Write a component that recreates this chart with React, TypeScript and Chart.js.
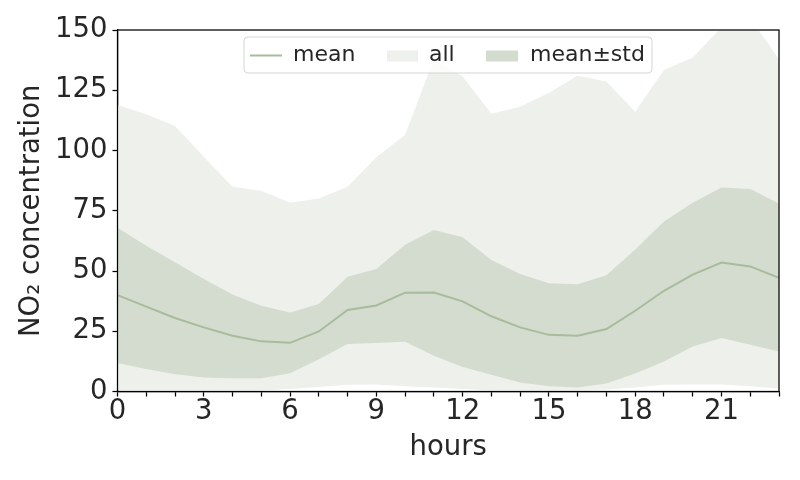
import React, { useEffect, useRef } from "react";
import { Chart, registerables } from "chart.js";

Chart.register(...registerables);

const hours = [0, 1, 2, 3, 4, 5, 6, 7, 8, 9, 10, 11, 12, 13, 14, 15, 16, 17, 18, 19, 20, 21, 22, 23];
const meanValues = [40.0, 35.2, 30.5, 26.6, 23.1, 20.8, 20.2, 24.9, 33.8, 35.7, 41.0, 41.1, 37.4, 31.2, 26.6, 23.5, 23.1, 25.9, 33.5, 41.8, 48.5, 53.5, 51.9, 47.2];
const stdUpper = [67.9, 60.5, 53.6, 46.7, 40.2, 35.6, 32.8, 36.3, 47.6, 50.8, 60.9, 67.0, 64.0, 54.6, 48.8, 44.9, 44.5, 48.2, 58.9, 70.5, 78.3, 84.6, 84.0, 78.0];
const stdLower = [11.8, 9.3, 7.2, 5.8, 5.5, 5.5, 7.6, 13.4, 19.7, 20.1, 20.6, 14.8, 10.2, 6.9, 3.7, 2.2, 1.7, 3.3, 7.5, 12.5, 18.7, 22.2, 19.4, 16.6];
const allMax = [118.9, 115.0, 110.2, 97.4, 85.0, 83.3, 78.3, 80.1, 85.0, 97.2, 106.4, 138.0, 130.7, 115.2, 118.2, 124.0, 131.0, 128.6, 116.1, 133.4, 138.6, 151.0, 155.0, 137.9];
const allMin = [0.5, 0.5, 0.5, 0.5, 0.5, 0.5, 1.0, 1.9, 2.8, 2.9, 2.2, 1.7, 1.0, 0.5, 0.5, 0.5, 0.5, 0.8, 1.7, 2.8, 2.9, 2.9, 2.2, 1.2];
const yTicks = [0, 25, 50, 75, 100, 125, 150];
const legendLabels = ["mean", "all", "mean\u00b1std"];

const MEAN_COLOR = "#a8bb9b";
const STD_COLOR = "#d4dccf";
const ALL_COLOR = "#eef0eb";
const TEXT_COLOR = "#262626";
const FONT = "'DejaVu Sans', sans-serif";

const pts = (arr: number[]) => hours.map((h, i) => ({ x: h, y: arr[i] }));

const framePlugin = {
  id: "frame",
  afterDatasetsDraw(chart: any) {
    const { ctx, chartArea: a } = chart;
    ctx.save();
    ctx.strokeStyle = "#000";
    ctx.lineWidth = 1.25;
    ctx.strokeRect(a.left, a.top, a.right - a.left, a.bottom - a.top);
    ctx.restore();
  },
};

const legendPlugin = {
  id: "customLegend",
  afterDraw(chart: any) {
    const { ctx } = chart;
    ctx.save();
    const x0 = 244, y0 = 37, w = 408, h = 36, r = 4;
    ctx.beginPath();
    ctx.moveTo(x0 + r, y0);
    ctx.lineTo(x0 + w - r, y0);
    ctx.arcTo(x0 + w, y0, x0 + w, y0 + r, r);
    ctx.lineTo(x0 + w, y0 + h - r);
    ctx.arcTo(x0 + w, y0 + h, x0 + w - r, y0 + h, r);
    ctx.lineTo(x0 + r, y0 + h);
    ctx.arcTo(x0, y0 + h, x0, y0 + h - r, r);
    ctx.lineTo(x0, y0 + r);
    ctx.arcTo(x0, y0, x0 + r, y0, r);
    ctx.closePath();
    ctx.fillStyle = "rgba(255,255,255,0.8)";
    ctx.fill();
    ctx.strokeStyle = "rgba(204,204,204,0.8)";
    ctx.lineWidth = 1;
    ctx.stroke();

    const cy = 55.5;
    // mean line handle
    ctx.strokeStyle = MEAN_COLOR;
    ctx.lineWidth = 2;
    ctx.beginPath();
    ctx.moveTo(250, cy);
    ctx.lineTo(282, cy);
    ctx.stroke();
    // all patch
    ctx.fillStyle = ALL_COLOR;
    ctx.fillRect(387, 50.5, 31, 11);
    // std patch
    ctx.fillStyle = STD_COLOR;
    ctx.fillRect(486, 50.5, 32, 11);

    ctx.fillStyle = TEXT_COLOR;
    ctx.font = `22px ${FONT}`;
    ctx.textBaseline = "middle";
    ctx.textAlign = "left";
    ctx.fillText(legendLabels[0], 293, cy);
    ctx.fillText(legendLabels[1], 429, cy);
    ctx.fillText(legendLabels[2], 530, cy);
    ctx.restore();
  },
};

export default function App() {
  const canvasRef = useRef<HTMLCanvasElement | null>(null);

  useEffect(() => {
    document.body.style.margin = "0";
    const canvas = canvasRef.current;
    if (!canvas) return;
    const chart = new Chart(canvas, {
      type: "line",
      data: {
        datasets: [
          {
            label: "allMin",
            data: pts(allMin),
            borderWidth: 0,
            pointRadius: 0,
            fill: false,
            order: 4,
          },
          {
            label: legendLabels[1],
            data: pts(allMax),
            borderWidth: 0,
            borderColor: ALL_COLOR,
            backgroundColor: ALL_COLOR,
            pointRadius: 0,
            fill: "-1",
            order: 3,
          },
          {
            label: "stdLower",
            data: pts(stdLower),
            borderWidth: 0,
            pointRadius: 0,
            fill: false,
            order: 2,
          },
          {
            label: legendLabels[2],
            data: pts(stdUpper),
            borderWidth: 0,
            borderColor: STD_COLOR,
            backgroundColor: STD_COLOR,
            pointRadius: 0,
            fill: "-1",
            order: 1,
          },
          {
            label: legendLabels[0],
            data: pts(meanValues),
            borderWidth: 2,
            borderColor: MEAN_COLOR,
            pointRadius: 0,
            fill: false,
            order: 0,
          },
        ],
      },
      options: {
        animation: false,
        responsive: false,
        maintainAspectRatio: false,
        layout: { padding: { top: 30, right: 21, left: 0, bottom: 0 } },
        plugins: {
          legend: { display: false },
          tooltip: { enabled: false },
        },
        scales: {
          x: {
            type: "linear",
            min: 0,
            max: 23,
            afterFit: (s: any) => {
              s.height = 88.5;
            },
            afterBuildTicks: (s: any) => {
              s.ticks = hours.map((h) => ({ value: h }));
            },
            grid: { drawOnChartArea: false, drawTicks: true, tickLength: 5, color: "#000", tickWidth: 1.25 },
            border: { display: true, color: "#000", width: 1.25 },
            ticks: {
              autoSkip: false,
              maxRotation: 0,
              padding: 2,
              color: TEXT_COLOR,
              font: { family: FONT, size: 27.5, lineHeight: 1 },
              callback: (v: any) => (Number(v) % 3 === 0 ? String(v) : ""),
            },
            title: {
              display: true,
              text: "hours",
              color: TEXT_COLOR,
              font: { family: FONT, size: 27.5, lineHeight: 1.2 },
              padding: { top: 0, bottom: 16 },
            },
          },
          y: {
            min: 0,
            max: 150,
            afterFit: (s: any) => {
              s.width = 117.5;
            },
            afterBuildTicks: (s: any) => {
              s.ticks = yTicks.map((v) => ({ value: v }));
            },
            grid: { drawOnChartArea: false, drawTicks: true, tickLength: 5, color: "#000", tickWidth: 1.25 },
            border: { display: true, color: "#000", width: 1.25 },
            ticks: {
              padding: 5,
              color: TEXT_COLOR,
              font: { family: FONT, size: 27.5, lineHeight: 1.2 },
            },
            title: {
              display: true,
              text: "NO\u2082 concentration",
              color: TEXT_COLOR,
              font: { family: FONT, size: 27.5, lineHeight: 1.2 },
              padding: { top: 15.5, bottom: 0 },
            },
          },
        },
      },
      plugins: [framePlugin, legendPlugin],
    });
    return () => chart.destroy();
  }, []);

  return (
    <div style={{ width: 800, height: 480, background: "#fff" }}>
      <canvas ref={canvasRef} width={800} height={480} style={{ display: "block", width: 800, height: 480 }} />
    </div>
  );
}
